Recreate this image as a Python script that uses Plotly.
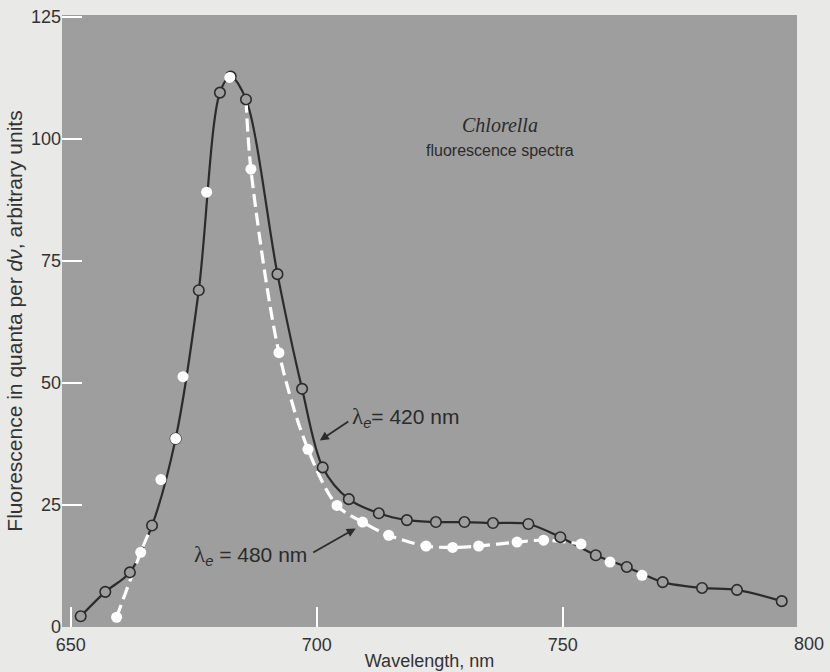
import plotly.graph_objects as go

# Fluorescence spectra of Chlorella, excitation at 420 nm (open circles, solid line)
wl_420 = [652, 657, 662, 666.5, 671.3, 676, 680.3, 682.5, 685.6, 692, 697, 701.2, 706.5,
          712.6, 718.3, 724.2, 730, 735.8, 743, 749.5, 756.7, 763, 770.3, 778.3, 785.4, 794.5]
fl_420 = [2.2, 7.2, 11.2, 20.8, 38.6, 69, 109.5, 112.8, 108.1, 72.3, 48.8, 32.7, 26.2,
          23.3, 21.9, 21.5, 21.5, 21.3, 21.1, 18.4, 14.7, 12.3, 9.2, 8.0, 7.6, 5.3]

# Excitation at 480 nm (white dots, dashed white line)
wl_480 = [659.3, 664.2, 668.3, 671.3, 672.8, 677.6, 682.3, 686.6, 692.3, 698.2, 704.1,
          709.3, 714.6, 722.2, 727.6, 732.9, 740.7, 746.1, 753.7, 759.6, 766.1]
fl_480 = [2.0, 15.3, 30.2, 38.6, 51.3, 89.1, 112.6, 93.8, 56.2, 36.4, 24.9,
          21.5, 18.8, 16.6, 16.3, 16.6, 17.4, 17.8, 17.0, 13.3, 10.6]

x_ticks = [650, 700, 750]
y_ticks = [0, 25, 50, 75, 100, 125]
x_range = [648.2, 797.6]
y_range = [0, 125.4]

ink = "#2b2b2b"
text_ink = "#333333"
panel = "#9e9e9e"
paper = "#e9e9e7"
sans = "Liberation Sans, Arial, sans-serif"
serif = "Liberation Serif, Times New Roman, serif"

fig = go.Figure()

# solid 420 nm curve
fig.add_trace(go.Scatter(
    x=wl_420, y=fl_420, mode="lines",
    line=dict(color=ink, width=2.2, shape="spline", smoothing=0.9),
    hoverinfo="skip", showlegend=False))

# dashed 480 nm curve: tail at the short-wavelength side, then the long-wavelength shoulder
left_x = wl_480[:2] + [wl_420[3]]
left_y = fl_480[:2] + [fl_420[3]]
right_x = [wl_420[8]] + wl_480[7:19]
right_y = [fl_420[8]] + fl_480[7:19]
for sx, sy in ((left_x, left_y), (right_x, right_y)):
    fig.add_trace(go.Scatter(
        x=sx, y=sy, mode="lines",
        line=dict(color="white", width=3.2, dash="13px,6px", shape="spline", smoothing=0.9),
        hoverinfo="skip", showlegend=False))

# markers
fig.add_trace(go.Scatter(
    x=wl_420, y=fl_420, mode="markers",
    marker=dict(symbol="circle", size=10.5, color=panel, line=dict(color=ink, width=1.6)),
    showlegend=False))
fig.add_trace(go.Scatter(
    x=wl_480, y=fl_480, mode="markers",
    marker=dict(symbol="circle", size=11, color="white", line=dict(width=0)),
    showlegend=False))

lam = "<span style='font-family:Liberation Serif;font-size:23px'>λ</span>"

annotations = [
    dict(x=0.596, y=0.821, xref="paper", yref="paper", showarrow=False,
         xanchor="center", yanchor="middle",
         text="<i>Chlorella</i>", font=dict(family=serif, size=20, color=ink)),
    dict(x=0.596, y=0.779, xref="paper", yref="paper", showarrow=False,
         xanchor="center", yanchor="middle",
         text="fluorescence spectra", font=dict(family=sans, size=16, color=ink)),
    # 420 nm label and pointer
    dict(x=706.8, y=42.9, xref="x", yref="y", showarrow=False, xanchor="left",
         text=lam + "<sub><i>e</i></sub>= 420 nm", font=dict(family=sans, size=21, color=ink)),
    dict(x=700.6, y=38.2, xref="x", yref="y", text="", showarrow=True,
         ax=30, ay=-20, arrowhead=2, arrowsize=1, arrowwidth=1.8, arrowcolor=ink),
    # 480 nm label and pointer
    dict(x=698.4, y=14.6, xref="x", yref="y", showarrow=False, xanchor="right",
         text=lam + "<sub><i>e</i></sub> = 480 nm", font=dict(family=sans, size=21, color=ink)),
    dict(x=707.9, y=20.2, xref="x", yref="y", text="", showarrow=True,
         ax=-44, ay=25, arrowhead=2, arrowsize=1, arrowwidth=1.8, arrowcolor=ink),
    # label for the right end of the wavelength axis
    dict(x=(800 - x_range[0]) / (x_range[1] - x_range[0]), y=0, xref="paper", yref="paper",
         xanchor="center", yanchor="top", yshift=-5, showarrow=False, text="800",
         font=dict(family=sans, size=18, color=text_ink)),
]

fig.update_layout(
    width=830, height=672,
    margin=dict(l=62, r=33, t=15, b=45, autoexpand=False),
    paper_bgcolor=paper, plot_bgcolor=panel,
    font=dict(family=sans, color=text_ink),
    annotations=annotations,
    xaxis=dict(
        range=x_range, tickvals=x_ticks, ticks="inside", ticklen=20, tickwidth=2,
        tickcolor="white", showgrid=False, zeroline=False, showline=False,
        automargin=False, ticklabelstandoff=5,
        tickfont=dict(family=sans, size=18, color=text_ink),
        title=dict(text="Wavelength, nm", font=dict(family=sans, size=18, color=text_ink),
                   standoff=0)),
    yaxis=dict(
        range=y_range, tickvals=y_ticks, ticks="inside", ticklen=20, tickwidth=2,
        tickcolor="white", showgrid=False, zeroline=False, showline=False,
        automargin=False,
        tickfont=dict(family=sans, size=18, color=text_ink),
        title=dict(text="Fluorescence in quanta per <i>dν</i>, arbitrary units",
                   font=dict(family=sans, size=21, color=text_ink), standoff=2)),
)

fig.write_html("out.html")
